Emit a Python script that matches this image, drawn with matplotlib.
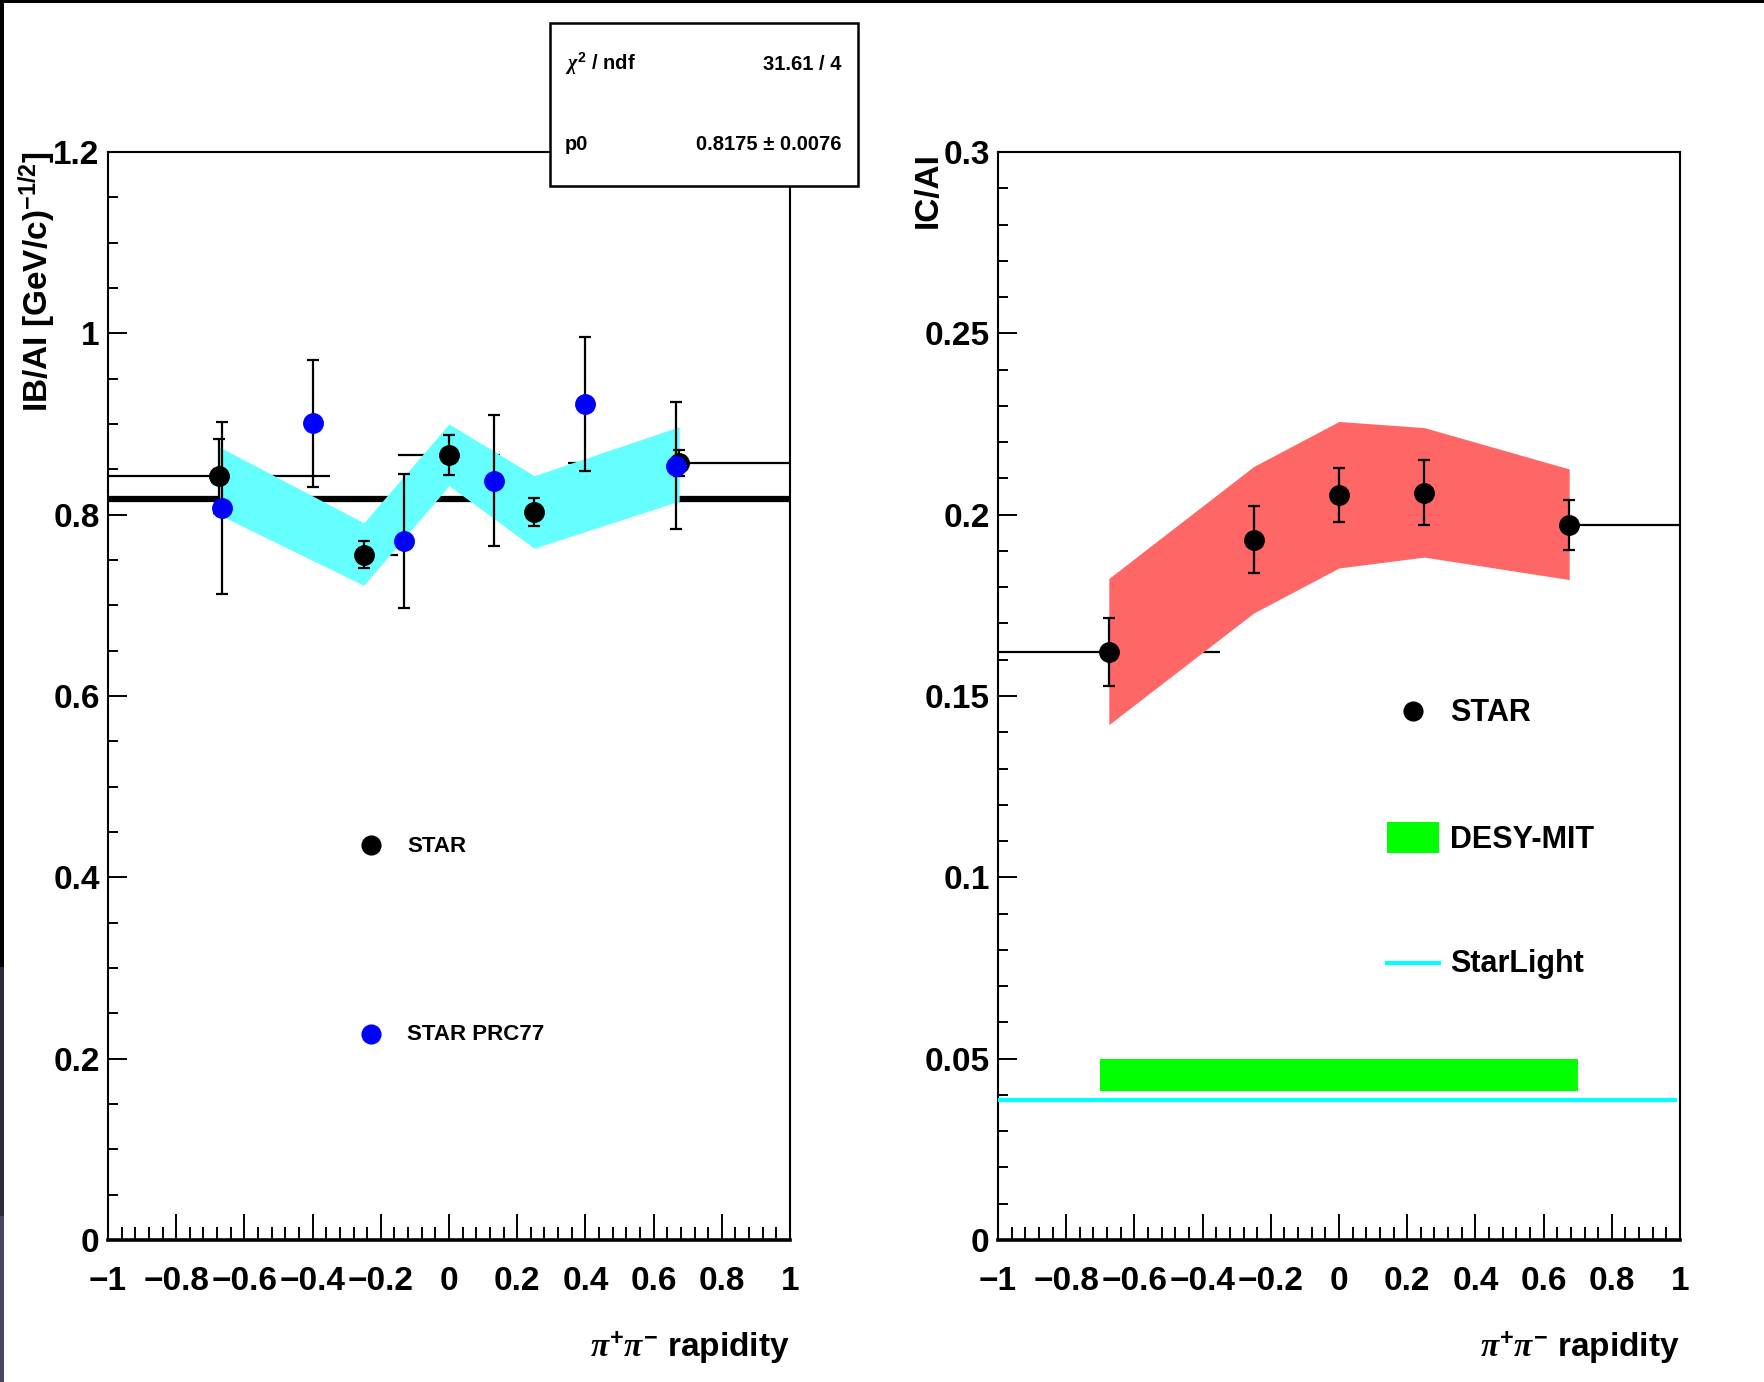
import numpy as np
import matplotlib
matplotlib.use('Agg')
import matplotlib.pyplot as plt
from matplotlib.patches import Rectangle
from matplotlib.lines import Line2D
from matplotlib.ticker import MultipleLocator, FuncFormatter

plt.rcParams['font.family'] = ['Liberation Sans', 'DejaVu Sans']
plt.rcParams['font.weight'] = 'bold'
plt.rcParams['mathtext.fontset'] = 'custom'
plt.rcParams['mathtext.rm'] = 'Liberation Sans:bold'
plt.rcParams['mathtext.bf'] = 'Liberation Sans:bold'
plt.rcParams['mathtext.sf'] = 'Liberation Sans:bold'
plt.rcParams['mathtext.it'] = 'Liberation Serif:italic'

# ---------------- data ----------------
star_rap = [-0.675, -0.25, 0.0, 0.25, 0.675]
star_bin_lo = [-1.0, -0.35, -0.15, 0.15, 0.35]
star_bin_hi = [-0.35, -0.15, 0.15, 0.35, 1.0]

star_ib = [0.843, 0.756, 0.866, 0.803, 0.857]
star_ib_err = [0.041, 0.015, 0.022, 0.015, 0.014]
star_ib_sys_lo = [0.800, 0.722, 0.832, 0.763, 0.815]
star_ib_sys_hi = [0.875, 0.791, 0.900, 0.843, 0.897]

prc77_rap = [-0.667, -0.4, -0.133, 0.133, 0.4, 0.667]
prc77_ib = [0.807, 0.901, 0.771, 0.8375, 0.922, 0.854]
prc77_ib_err = [0.095, 0.070, 0.074, 0.072, 0.074, 0.070]

fit_p0 = 0.8175
fit_range = [-0.99, 0.99]

star_ic = [0.1622, 0.1931, 0.2055, 0.2061, 0.1972]
star_ic_err = [0.0094, 0.0093, 0.0074, 0.0089, 0.0069]
star_ic_sys_lo = [0.1421, 0.1729, 0.1853, 0.1883, 0.1821]
star_ic_sys_hi = [0.1824, 0.2133, 0.2257, 0.2240, 0.2126]

desy_rap = [-0.70, 0.70]
desy_ic = [0.041, 0.050]
starlight_rap = [-1.0, 0.985]
starlight_ic = 0.0387

stat_labels = [r'$\chi^{2}$ / ndf', 'p0']
stat_values = ['31.61 / 4', '0.8175 \u00b1 0.0076']

# ---------------- figure ----------------
W, H = 1764, 1382
fig = plt.figure(figsize=(W / 100, H / 100), dpi=100)
fig.patch.set_facecolor('white')

ax1 = fig.add_axes([108 / W, 1 - 1240 / H, 682 / W, 1088 / H])
ax2 = fig.add_axes([998 / W, 1 - 1240 / H, 682 / W, 1088 / H])


def fmt(v, p):
    v = round(v, 3)
    if abs(v) < 1e-9:
        return '0'
    s = f'{v:g}'
    return s.replace('-', '\u2212')


for ax in (ax1, ax2):
    ax.set_xlim(-1, 1)
    ax.xaxis.set_major_locator(MultipleLocator(0.2))
    ax.xaxis.set_minor_locator(MultipleLocator(0.04))
    ax.xaxis.set_major_formatter(FuncFormatter(fmt))
    ax.yaxis.set_major_formatter(FuncFormatter(fmt))
    ax.tick_params(which='both', direction='in', top=False, right=False,
                   width=1.4, labelsize=24)
    ax.tick_params(axis='x', which='major', length=19, pad=19)
    ax.tick_params(axis='x', which='minor', length=9.5)
    ax.tick_params(axis='y', which='major', length=14, pad=6)
    ax.tick_params(axis='y', which='minor', length=7)
    for lab in ax.get_xticklabels() + ax.get_yticklabels():
        lab.set_fontweight('bold')
    for s in ax.spines.values():
        s.set_linewidth(1.5)
    ax.spines['bottom'].set_linewidth(2.6)
    ax.text(1.0, -0.099, r'$\pi^{+}\pi^{-}$ rapidity', transform=ax.transAxes,
            ha='right', va='center', fontsize=24, fontweight='bold')

# ---- left panel ----
ax1.set_ylim(0, 1.2)
ax1.yaxis.set_major_locator(MultipleLocator(0.2))
ax1.yaxis.set_minor_locator(MultipleLocator(0.05))

ax1.hlines(star_ib, star_bin_lo, star_bin_hi, colors='k', lw=1.6, zorder=2)
ax1.plot(fit_range, [fit_p0, fit_p0], color='k', lw=4.5, zorder=2)
ax1.fill_between(star_rap, star_ib_sys_lo, star_ib_sys_hi, color='#66ffff',
                 lw=0, zorder=3)
ax1.errorbar(star_rap, star_ib, yerr=star_ib_err, fmt='o', color='k', ms=14,
             ecolor='k', elinewidth=1.6, capsize=4, capthick=1.6, zorder=4)
ax1.errorbar(prc77_rap, prc77_ib, yerr=prc77_ib_err, fmt='o', color='#0000ff',
             ms=14, ecolor='k', elinewidth=1.6, capsize=4, capthick=1.6, zorder=5)

ax1.text(-0.104, 1.0, r'IB/AI [GeV/c)$^{\mathrm{-1/2}}$]', transform=ax1.transAxes,
         rotation=90, ha='center', va='top', fontsize=24, fontweight='bold')

# ---- right panel ----
ax2.set_ylim(0, 0.3)
ax2.yaxis.set_major_locator(MultipleLocator(0.05))
ax2.yaxis.set_minor_locator(MultipleLocator(0.01))

ax2.hlines(star_ic, star_bin_lo, star_bin_hi, colors='k', lw=1.6, zorder=2)
ax2.fill_between(star_rap, star_ic_sys_lo, star_ic_sys_hi, color='#ff6666',
                 lw=0, zorder=3)
ax2.add_patch(Rectangle((desy_rap[0], desy_ic[0]), desy_rap[1] - desy_rap[0],
                        desy_ic[1] - desy_ic[0], facecolor='#00ff00', lw=0, zorder=3))
ax2.plot(starlight_rap, [starlight_ic, starlight_ic], color='#00ffff', lw=3, zorder=3)
ax2.errorbar(star_rap, star_ic, yerr=star_ic_err, fmt='o', color='k', ms=14,
             ecolor='k', elinewidth=1.6, capsize=4, capthick=1.6, zorder=4)

ax2.text(-0.1026, 1.0, 'IC/AI', transform=ax2.transAxes, rotation=90,
         ha='center', va='top', fontsize=24, fontweight='bold')

# ---- legends (figure coordinates) ----
tf = fig.transFigure
fig.add_artist(Line2D([371 / W], [1 - 845 / H], marker='o', ms=13.5, color='k',
                      ls='none', transform=tf))
fig.text(407 / W, 1 - 847 / H, 'STAR', fontsize=16, fontweight='bold', va='center')
fig.add_artist(Line2D([371 / W], [1 - 1034 / H], marker='o', ms=13.5, color='#0000ff',
                      ls='none', transform=tf))
fig.text(407 / W, 1 - 1035 / H, 'STAR PRC77', fontsize=16, fontweight='bold', va='center')

fig.add_artist(Line2D([1413 / W], [1 - 711 / H], marker='o', ms=13.5, color='k',
                      ls='none', transform=tf))
fig.text(1450 / W, 1 - 713 / H, 'STAR', fontsize=22, fontweight='bold', va='center')
fig.add_artist(Rectangle((1387 / W, 1 - 853 / H), 52 / W, 31 / H, facecolor='#00ff00',
                         lw=0, transform=tf))
fig.text(1450 / W, 1 - 840 / H, 'DESY-MIT', fontsize=22, fontweight='bold', va='center')
fig.add_artist(Line2D([1387 / W, 1439 / W], [1 - 963 / H, 1 - 963 / H], color='#00ffff',
                      lw=3, transform=tf))
fig.text(1450 / W, 1 - 964 / H, 'StarLight', fontsize=22, fontweight='bold', va='center')

# ---- stat box ----
fig.add_artist(Rectangle((550 / W, 1 - 186 / H), 308 / W, 163.5 / H, facecolor='white',
                         edgecolor='k', lw=1.8, transform=tf, zorder=10))
ys = [1 - 64 / H, 1 - 144 / H]
for lab, val, y in zip(stat_labels, stat_values, ys):
    fig.text(565 / W, y, lab, fontsize=14.5, fontweight='bold', va='center',
             ha='left', zorder=11)
    fig.text(841 / W, y, val, fontsize=14.5, fontweight='bold', va='center',
             ha='right', zorder=11)

# ---- dark screenshot edges ----
fig.add_artist(Rectangle((0, 1 - 2.5 / H), 1, 2.5 / H, facecolor='k', lw=0,
                         transform=tf, zorder=20))
fig.add_artist(Rectangle((0, 0.30), 4 / W, 0.70, facecolor='k', lw=0,
                         transform=tf, zorder=20))
fig.add_artist(Rectangle((0, 0.12), 4 / W, 0.18, facecolor='#2e2a3e', lw=0,
                         transform=tf, zorder=20))
fig.add_artist(Rectangle((0, 0), 4 / W, 0.12, facecolor='#4a4560', lw=0,
                         transform=tf, zorder=20))

fig.savefig('out.png', dpi=100, facecolor='white')
